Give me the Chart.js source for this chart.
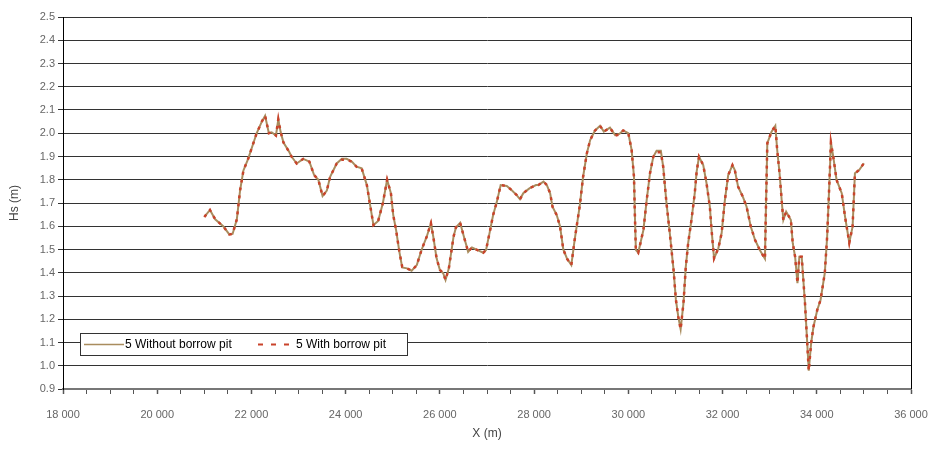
<!DOCTYPE html>
<html>
<head>
<meta charset="utf-8">
<script src="https://cdn.jsdelivr.net/npm/chart.js@4.4.1/dist/chart.umd.min.js"></script>
<style>
  html, body { margin: 0; padding: 0; background: #fff; }
  #wrap { position: relative; width: 937px; height: 452px; }
</style>
</head>
<body>
<div id="wrap"><canvas id="hs-chart" width="937" height="452"></canvas></div>
<script>
// X position along the profile (m)
const xPos = [
  21000, 21120, 21230, 21400, 21530, 21600, 21690, 21760, 21830, 21930,
  22040, 22110, 22220, 22290, 22370, 22430, 22520, 22570, 22620, 22680,
  22800, 22850, 22960, 23100, 23230, 23330, 23420, 23510, 23600, 23670,
  23810, 23920, 24020, 24130, 24230, 24340, 24450, 24520, 24590, 24690,
  24790, 24880, 24960, 25010, 25070, 25140, 25200, 25300, 25400, 25510,
  25610, 25720, 25810, 25860, 25930, 26000, 26070, 26120, 26190, 26290,
  26340, 26430, 26500, 26600, 26680, 26790, 26920, 26980, 27060, 27130,
  27210, 27290, 27420, 27520, 27630, 27700, 27770, 27900, 28040, 28090,
  28200, 28270, 28340, 28390, 28480, 28550, 28620, 28700, 28790, 28860,
  28970, 29040, 29120, 29190, 29290, 29400, 29480, 29610, 29720, 29810,
  29890, 30000, 30070, 30120, 30140, 30160, 30210, 30320, 30390, 30460,
  30530, 30600, 30690, 30740, 30810, 30880, 30960, 31010, 31060, 31110,
  31170, 31220, 31270, 31340, 31410, 31450, 31500, 31590, 31660, 31730,
  31770, 31820, 31910, 31980, 32050, 32120, 32210, 32260, 32330, 32430,
  32510, 32600, 32690, 32790, 32900, 32920, 32950, 33040, 33120, 33160,
  33210, 33260, 33290, 33350, 33450, 33490, 33540, 33590, 33630, 33680,
  33710, 33750, 33790, 33830, 33880, 33930, 34010, 34080, 34170, 34220,
  34270, 34300, 34350, 34420, 34530, 34600, 34690, 34760, 34810, 34900,
  35000
];

// Hs (m), case 5 without borrow pit
const hsWithout = [
  1.64, 1.67, 1.63, 1.60, 1.565, 1.567, 1.63, 1.756, 1.84, 1.89,
  1.957, 2.00, 2.05, 2.075, 2.00, 2.004, 1.99, 2.06, 2.005, 1.96,
  1.92, 1.90, 1.87, 1.89, 1.878, 1.82, 1.80, 1.73, 1.753, 1.813,
  1.87, 1.89, 1.89, 1.878, 1.856, 1.849, 1.777, 1.69, 1.605, 1.623,
  1.70, 1.80, 1.742, 1.648, 1.584, 1.49, 1.423, 1.419, 1.409, 1.433,
  1.498, 1.555, 1.613, 1.555, 1.462, 1.412, 1.398, 1.369, 1.419, 1.555,
  1.595, 1.615, 1.562, 1.49, 1.509, 1.498, 1.486, 1.498, 1.577, 1.648,
  1.706, 1.777, 1.773, 1.756, 1.734, 1.716, 1.742, 1.763, 1.777, 1.777,
  1.792, 1.777, 1.742, 1.684, 1.648, 1.60, 1.50, 1.46, 1.433, 1.54,
  1.69, 1.813, 1.914, 1.971, 2.011, 2.032, 2.007, 2.024, 1.992, 1.997,
  2.012, 2.00, 1.928, 1.813, 1.641, 1.498, 1.486, 1.584, 1.713, 1.828,
  1.899, 1.925, 1.925, 1.856, 1.699, 1.57, 1.412, 1.283, 1.211, 1.157,
  1.268, 1.426, 1.527, 1.627, 1.742, 1.835, 1.899, 1.863, 1.785, 1.684,
  1.577, 1.462, 1.505, 1.57, 1.713, 1.82, 1.863, 1.842, 1.77, 1.727,
  1.684, 1.598, 1.541, 1.498, 1.46, 1.67, 1.957, 2.007, 2.032, 1.928,
  1.828, 1.699, 1.627, 1.663, 1.627, 1.527, 1.469, 1.355, 1.469, 1.469,
  1.383, 1.268, 1.125, 0.979, 1.097, 1.168, 1.24, 1.283, 1.398, 1.555,
  1.799, 1.96, 1.899, 1.799, 1.742, 1.641, 1.529, 1.598, 1.828, 1.842,
  1.871
];

// Hs (m), case 5 with borrow pit
const hsWith = [
  1.64, 1.67, 1.63, 1.60, 1.565, 1.567, 1.63, 1.756, 1.84, 1.89,
  1.957, 2.00, 2.05, 2.075, 2.00, 2.004, 1.99, 2.06, 2.005, 1.96,
  1.92, 1.90, 1.87, 1.89, 1.878, 1.82, 1.80, 1.73, 1.753, 1.813,
  1.87, 1.886, 1.886, 1.878, 1.856, 1.849, 1.777, 1.69, 1.605, 1.623,
  1.70, 1.80, 1.742, 1.648, 1.584, 1.49, 1.426, 1.419, 1.409, 1.433,
  1.498, 1.555, 1.613, 1.555, 1.462, 1.412, 1.398, 1.369, 1.419, 1.555,
  1.595, 1.615, 1.562, 1.49, 1.509, 1.498, 1.486, 1.498, 1.577, 1.648,
  1.706, 1.777, 1.773, 1.756, 1.734, 1.716, 1.742, 1.763, 1.777, 1.777,
  1.792, 1.777, 1.742, 1.684, 1.648, 1.60, 1.50, 1.46, 1.433, 1.54,
  1.69, 1.813, 1.914, 1.971, 2.011, 2.032, 2.007, 2.024, 1.99, 1.995,
  2.012, 2.00, 1.928, 1.813, 1.641, 1.498, 1.486, 1.584, 1.713, 1.828,
  1.899, 1.918, 1.918, 1.856, 1.699, 1.57, 1.412, 1.283, 1.211, 1.157,
  1.268, 1.426, 1.527, 1.627, 1.742, 1.835, 1.899, 1.863, 1.785, 1.684,
  1.577, 1.462, 1.505, 1.57, 1.713, 1.82, 1.863, 1.842, 1.77, 1.727,
  1.684, 1.598, 1.541, 1.498, 1.46, 1.67, 1.957, 2.007, 2.032, 1.928,
  1.828, 1.699, 1.627, 1.663, 1.627, 1.527, 1.469, 1.355, 1.469, 1.469,
  1.383, 1.268, 1.125, 0.979, 1.097, 1.168, 1.24, 1.283, 1.398, 1.555,
  1.799, 1.96, 1.899, 1.799, 1.742, 1.641, 1.529, 1.598, 1.828, 1.842,
  1.871
];

const seriesNames = ["5 Without borrow pit", "5 With borrow pit"];
const xMajorStep = 2000;

const tanColor = "#a98c5e";
const redColor = "#c9432b";
const fontFamily = "'Liberation Sans', Arial, sans-serif";

const toPoints = (ys) => xPos.map((x, i) => ({ x: x, y: ys[i] }));
const fmtThousands = (v) => String(v).replace(/\B(?=(\d{3})+$)/g, " ");

// 범례 + 오른쪽 테두리
const boxPlugin = {
    id: "boxPlugin",
    afterDraw(chart) {
        const ctx = chart.ctx;
        const area = chart.chartArea;
        ctx.save();
        ctx.strokeStyle = "#000";
        ctx.lineWidth = 1;
        ctx.beginPath();
        ctx.moveTo(area.right + 0.5, area.top);
        ctx.lineTo(area.right + 0.5, area.bottom);
        ctx.stroke();

        // legend box
        const lx = 80, ly = 333, lw = 327, lh = 22;
        ctx.fillStyle = "#fff";
        ctx.fillRect(lx, ly, lw, lh);
        ctx.strokeStyle = "#333";
        ctx.strokeRect(lx + 0.5, ly + 0.5, lw, lh);

        const midY = ly + 11.5;
        const dsWithout = chart.data.datasets[0];
        const dsWith = chart.data.datasets[1];
        ctx.font = "12px " + fontFamily;
        ctx.textBaseline = "middle";
        ctx.fillStyle = "#000";

        ctx.strokeStyle = dsWithout.borderColor;
        ctx.lineWidth = 1.5;
        ctx.beginPath();
        ctx.moveTo(84, midY);
        ctx.lineTo(124, midY);
        ctx.stroke();
        ctx.fillText(dsWithout.label, 125, midY);

        ctx.strokeStyle = dsWith.borderColor;
        ctx.lineWidth = 2;
        ctx.setLineDash([5, 8]);
        ctx.beginPath();
        ctx.moveTo(258, midY);
        ctx.lineTo(296, midY);
        ctx.stroke();
        ctx.setLineDash([]);
        ctx.fillText(dsWith.label, 296, midY);
        ctx.restore();
    }
};

new Chart(document.getElementById("hs-chart"), {
    type: "line",
    data: {
        datasets: [
            {
                label: seriesNames[0],
                data: toPoints(hsWithout),
                borderColor: tanColor,
                borderWidth: 2,
                pointRadius: 0,
                tension: 0,
                order: 2
            },
            {
                label: seriesNames[1],
                data: toPoints(hsWith),
                borderColor: redColor,
                borderWidth: 2.5,
                borderDash: [3, 5],
                pointRadius: 0,
                tension: 0,
                order: 1
            }
        ]
    },
    options: {
        responsive: false,
        animation: false,
        layout: { padding: { left: 0, right: 26, top: 17, bottom: 0 } },
        plugins: {
            legend: { display: false },
            tooltip: { enabled: false }
        },
        scales: {
            x: {
                type: "linear",
                min: 18000,
                max: 36000,
                afterFit(scale) {
                    scale.height = 452 - 389;
                    scale.paddingLeft = 0;
                    scale.paddingRight = 0;
                },
                border: { display: true, color: "#777", width: 2 },
                grid: {
                    drawOnChartArea: false,
                    tickLength: 5,
                    tickColor: "#555",
                    tickWidth: (c) => (c.tick && c.tick.value % xMajorStep === 0 ? 1.5 : 1)
                },
                ticks: {
                    stepSize: 500,
                    autoSkip: false,
                    maxRotation: 0,
                    padding: 14,
                    color: "#666",
                    font: { family: fontFamily, size: 11 },
                    callback: (v) => (v % xMajorStep === 0 ? fmtThousands(v) : "")
                },
                title: {
                    display: true,
                    text: "X (m)",
                    color: "#444",
                    font: { family: fontFamily, size: 12 },
                    padding: { top: 0, bottom: 11 }
                }
            },
            y: {
                min: 0.9,
                max: 2.5,
                afterFit(scale) {
                    scale.width = 63;
                    scale.paddingTop = 0;
                    scale.paddingBottom = 0;
                },
                border: { display: true, color: "#000", width: 1 },
                grid: {
                    color: "#333",
                    lineWidth: 1,
                    tickLength: 5,
                    tickColor: "#333"
                },
                ticks: {
                    stepSize: 0.1,
                    padding: 3,
                    color: "#666",
                    font: { family: fontFamily, size: 11 },
                    callback: (v) => Number(v).toFixed(1)
                },
                title: {
                    display: true,
                    text: "Hs (m)",
                    color: "#444",
                    font: { family: fontFamily, size: 12 },
                    padding: { top: 7, bottom: 0 }
                }
            }
        }
    },
    plugins: [boxPlugin]
});
</script>
</body>
</html>
